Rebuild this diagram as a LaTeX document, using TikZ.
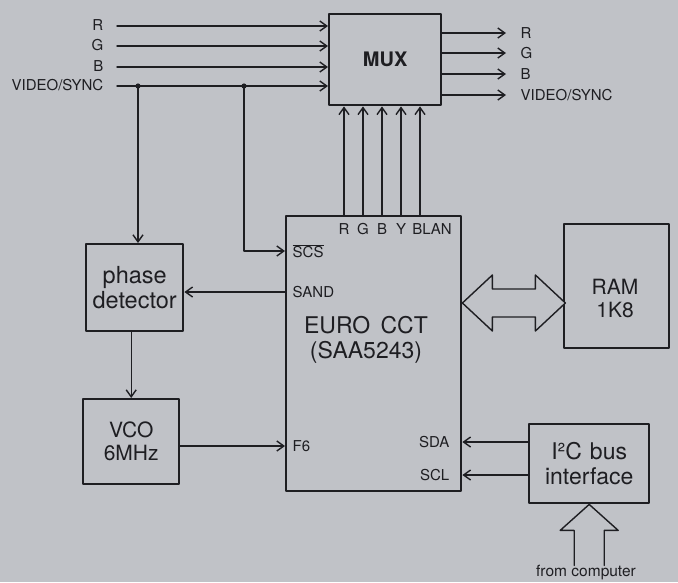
\documentclass[tikz,border=0pt]{standalone}
\usepackage{fontspec}
\setmainfont{TeX Gyre Heros}
\usetikzlibrary{arrows.meta}
\definecolor{paper}{RGB}{192,194,199}
\definecolor{ink}{RGB}{30,30,34}
\begin{document}
\begin{tikzpicture}[x=1pt, y=-1pt, line join=round, line cap=round, line width=1.4pt, color=ink,
    >={Straight Barb[length=7pt,width=10pt]},
    box/.style={draw, line width=2.4pt, anchor=north west, inner sep=0pt, align=center,
      font=\fontsize{21}{23}\selectfont},
    big/.style={align=center, font=\fontsize{23}{25}\selectfont},
    pin/.style={inner sep=1pt, font=\fontsize{15}{17}\selectfont}]
  \def\W{678} \def\H{582}
  \fill[paper] (0,0) rectangle (\W,\H);
  \useasboundingbox (0,0) rectangle (\W,\H);
  % blocks
  \node[box, minimum width=112, minimum height=91, font=\fontsize{20}{22}\selectfont\bfseries] (mux) at (328,13) {MUX};
  \node[box, minimum width=175, minimum height=275] (euro) at (285,215) {};
  \node[box, minimum width=97, minimum height=87, font=\fontsize{23.5}{25}\selectfont] (phase) at (85,243) {phase\\detector};
  \node[box, minimum width=96, minimum height=85] (vco) at (82,398) {VCO\\6MHz};
  \node[box, minimum width=105, minimum height=124] (ram) at (563,223) {};
  \node[box, minimum width=120, minimum height=79, font=\fontsize{23}{25}\selectfont] (i2c) at (528,423) {I²C\hspace{0.35em}bus\\interface};
  \node[big] (eurotxt) at (366,340) {EURO\hspace{0.45em}CCT\\(SAA5243)};
  \node[box, draw=none] (ramtxt) at (615,298) [anchor=center] {RAM\\1K8};
  % inputs and outputs of the MUX
  \foreach \y/\t [count=\i] in {26/R,46/G,67/B,86/{VIDEO/SYNC}} {
    \node[pin, anchor=east] (in\i) at (105,\y-1) {\t};
    \coordinate (ini\i) at (117,\y);
    \draw[->] (ini\i) -- (ini\i -| mux.west);
  }
  \foreach \y/\t [count=\i] in {33/R,53/G,74/B,95/{VIDEO/SYNC}} {
    \node[pin, anchor=west] (out\i) at (519,\y) {\t};
    \draw[->] (mux.east |- out\i.west) -- ([xshift=-13pt]out\i.west);
  }
  % pins of the EURO CCT
  \node[pin, anchor=west] (scs) at (291,251) {$\overline{\hbox{SCS}}$};
  \node[pin, anchor=west] (sand) at (291,292) {SAND};
  \node[pin, anchor=west] (f6) at (291,446) {F6};
  \node[pin, anchor=east] (sda) at (451,442) {SDA};
  \node[pin, anchor=east] (scl) at (451,475) {SCL};
  \foreach \x/\t [count=\i] in {344/R,363/G,382/B,401/Y} {
    \node[pin] (p\i) at (\x,229) {\t};
    \draw[->] (p\i.north |- euro.north) -- (p\i.north |- mux.south);
  }
  \node[pin] (p5) at (432,229) {BLAN};
  \draw[->] ([xshift=-12pt]p5.north |- euro.north) -- ([xshift=-12pt]p5.north |- mux.south);
  % video/sync taps
  \coordinate (j1) at (138,86);
  \coordinate (j2) at (244,86);
  \fill (j1) circle (2.6pt) (j2) circle (2.6pt);
  \draw[->] (j1) -- (j1 |- phase.north);
  \draw[->] (j2) |- (euro.west |- scs.west);
  \draw[->] (euro.west |- sand.west) -- (phase.east |- sand.west);
  \draw[->] (phase.south -| vco.north) -- (vco.north);
  \draw[->] (vco.east |- f6.west) -- (euro.west |- f6.west);
  \draw[->] (i2c.west |- sda.east) -- (euro.east |- sda.east);
  \draw[->] (i2c.west |- scl.east) -- (euro.east |- scl.east);
  % data bus to the RAM
  \coordinate (dl) at (euro.east |- 0,303);
  \draw[fill=paper] (dl) -- ++(30,-28) -- ++(0,14) -- ++(43,0) -- ++(0,-14) -- ++(30,28)
    -- ++(-30,28) -- ++(0,-14) -- ++(-43,0) -- ++(0,14) -- cycle;
  % bus from the computer
  \draw (i2c.south) ++(-15,61) -- ++(0,-35) -- ++(-14,0) -- (i2c.south) -- ++(29,26) -- ++(-14,0) -- ++(0,35);
  \node[pin, font=\fontsize{15.5}{17}\selectfont] (pc) at (586,573) {from computer};
\end{tikzpicture}
\end{document}
